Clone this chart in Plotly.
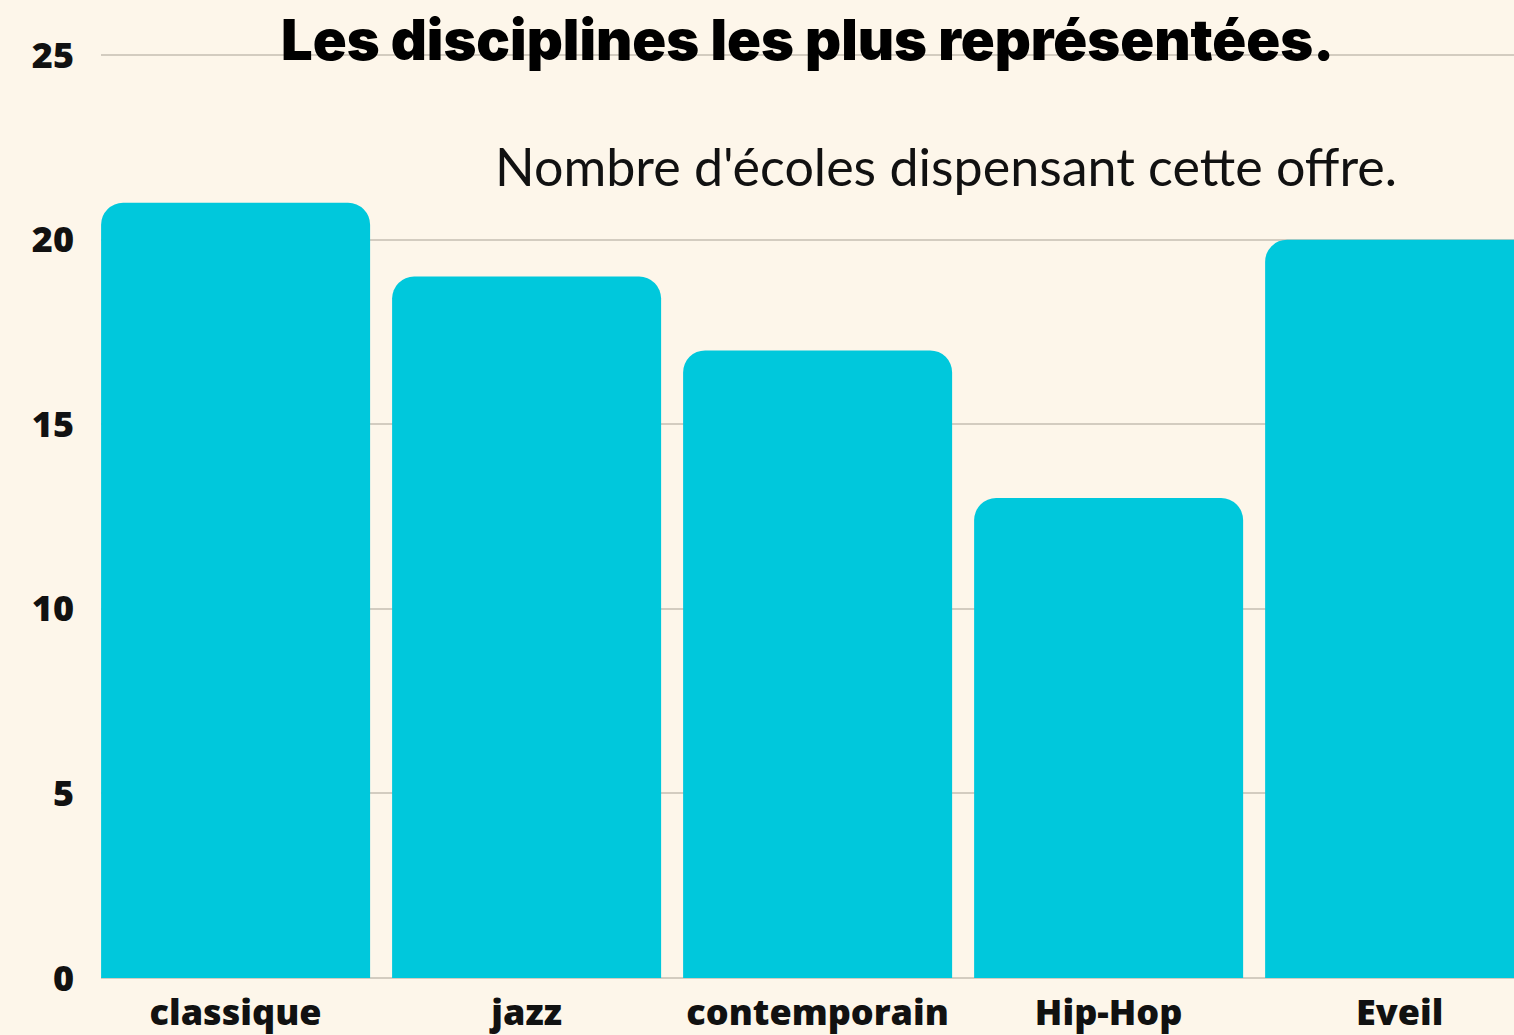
import plotly.graph_objects as go

categories = ["classique", "jazz", "contemporain", "Hip-Hop", "Eveil"]
values = [21, 19, 17, 13, 20]
y_ticks = [0, 5, 10, 15, 20, 25]

title_text = "Les disciplines les plus représentées."
subtitle_text = "Nombre d'écoles dispensant cette offre."

BG = "#FDF6EA"
BAR = "#00C8DC"
GRID = "#D3CCC0"
INK = "#111111"

fig = go.Figure(
    go.Bar(
        x=categories,
        y=values,
        marker=dict(color=BAR, line=dict(width=0), cornerradius=22),
        hoverinfo="x+y",
    )
)

fig.update_layout(
    width=1514,
    height=1035,
    paper_bgcolor=BG,
    plot_bgcolor=BG,
    margin=dict(l=101, r=0, t=54, b=57),
    bargap=0.0756,
    showlegend=False,
    annotations=[
        dict(
            text=title_text,
            xref="paper", yref="paper",
            x=0.4997, y=1.015,
            xanchor="center", yanchor="middle",
            showarrow=False,
            font=dict(family="Inter", size=56, color="#000000", weight=900),
        ),
        dict(
            text=subtitle_text,
            xref="paper", yref="paper",
            x=0.598, y=0.879,
            xanchor="center", yanchor="middle",
            showarrow=False,
            font=dict(family="Lato", size=52, color=INK, weight=400),
        ),
    ],
)

fig.update_xaxes(
    type="category",
    range=[-0.4625, 4.393],
    showgrid=False,
    showline=False,
    ticks="",
    tickfont=dict(family="Open Sans", size=36, color=INK, weight=800),
    ticklabelstandoff=10,
)

fig.update_yaxes(
    range=[0, 25.03],
    tickvals=y_ticks,
    ticktext=[str(v) for v in y_ticks],
    showgrid=True,
    gridcolor=GRID,
    gridwidth=2,
    zeroline=True,
    zerolinecolor=GRID,
    zerolinewidth=2,
    showline=False,
    ticks="",
    tickfont=dict(family="Open Sans", size=36, color=INK, weight=800),
    ticklabelstandoff=26,
)

fig.write_html(
    "out.html",
    config={"displayModeBar": False},
    post_script="document.body.style.margin='0';document.body.style.background='%s';" % BG,
)
